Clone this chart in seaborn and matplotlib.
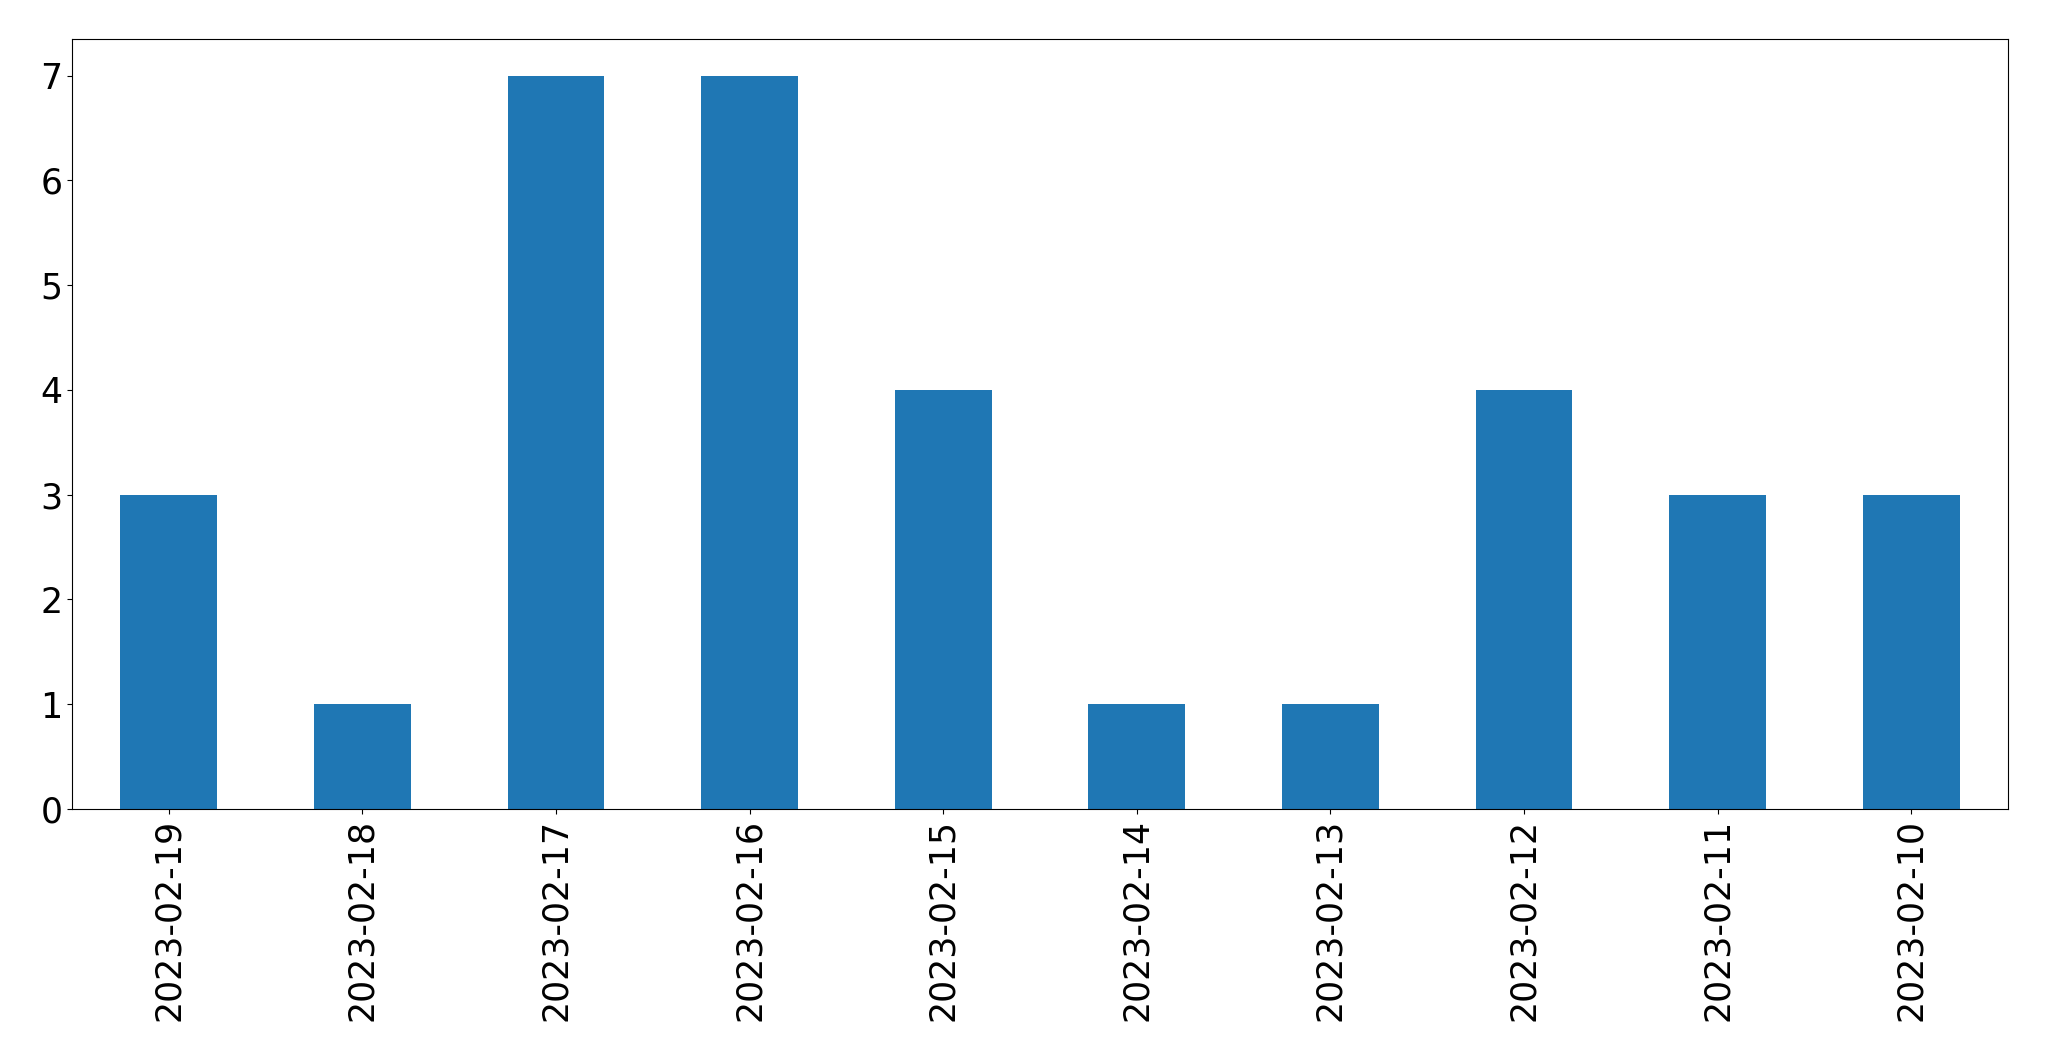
import matplotlib
matplotlib.use("Agg")
import matplotlib.pyplot as plt
import seaborn as sns
import pandas as pd

dates = ["2023-02-19", "2023-02-18", "2023-02-17", "2023-02-16", "2023-02-15",
         "2023-02-14", "2023-02-13", "2023-02-12", "2023-02-11", "2023-02-10"]
counts = [3, 1, 7, 7, 4, 1, 1, 4, 3, 3]

df = pd.DataFrame({"date": dates, "count": counts})

fig = plt.figure(figsize=(20.49, 10.61), dpi=100)
ax = fig.add_axes([72 / 2049, 1 - 809 / 1061, (2008 - 72) / 2049, (809 - 39) / 1061])

sns.barplot(data=df, x="date", y="count", order=dates, color="#1f77b4",
            saturation=1, width=0.5, linewidth=0, ax=ax)

ax.set_xlabel("")
ax.set_ylabel("")
ax.set_xlim(-0.5, len(dates) - 0.5)
ax.set_ylim(0, 7.35)
ax.tick_params(axis="both", labelsize=25)
plt.setp(ax.get_xticklabels(), rotation=90)

fig.savefig("out.png", dpi=100)
